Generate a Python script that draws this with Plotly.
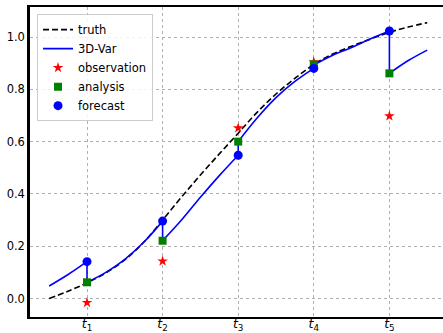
import plotly.graph_objects as go

# ---- data ----
truth_x = [0.5, 0.75, 1.0, 1.25, 1.5, 1.75, 2.0, 2.25, 2.5, 2.75, 3.0,
           3.25, 3.5, 3.75, 4.0, 4.25, 4.5, 4.75, 5.0, 5.25, 5.5]
truth_y = [0.000, 0.028, 0.060, 0.098, 0.148, 0.215, 0.300, 0.388, 0.472, 0.553, 0.632,
           0.712, 0.782, 0.842, 0.895, 0.935, 0.965, 0.992, 1.018, 1.038, 1.055]

# 3D-Var forecast segments (model runs between analysis times)
seg_x = [[0.5, 0.75, 1.0],
         [1.0, 1.25, 1.5, 1.75, 2.0],
         [2.0, 2.25, 2.5, 2.75, 3.0],
         [3.0, 3.25, 3.5, 3.75, 4.0],
         [4.0, 4.25, 4.5, 4.75, 5.0],
         [5.0, 5.25, 5.5]]
seg_y = [[0.048, 0.092, 0.141],
         [0.062, 0.100, 0.150, 0.215, 0.296],
         [0.221, 0.300, 0.387, 0.470, 0.548],
         [0.600, 0.690, 0.768, 0.830, 0.880],
         [0.893, 0.930, 0.960, 0.993, 1.023],
         [0.861, 0.910, 0.950]]

obs_t = [1, 2, 3, 4, 5]
obs_y = [-0.016, 0.143, 0.652, 0.905, 0.698]
ana_y = [0.062, 0.221, 0.600, 0.895, 0.861]
fc_y = [0.141, 0.296, 0.548, 0.880, 1.023]

tick_labels = ["<i>t</i><sub>1</sub>", "<i>t</i><sub>2</sub>", "<i>t</i><sub>3</sub>",
               "<i>t</i><sub>4</sub>", "<i>t</i><sub>5</sub>"]
y_ticks = [0.0, 0.2, 0.4, 0.6, 0.8, 1.0]

FONT = "DejaVu Sans"

# build the 3D-Var line: forecast segments plus the analysis jumps, split by gaps
var_x, var_y = [], []
for sx, sy in zip(seg_x, seg_y):
    var_x += sx + [None]
    var_y += sy + [None]
for t, f, a in zip(obs_t, fc_y, ana_y):
    var_x += [t, t, None]
    var_y += [f, a, None]

fig = go.Figure()
fig.add_trace(go.Scatter(x=truth_x, y=truth_y, mode="lines", name="truth",
                         line=dict(color="black", width=1.6, dash="6px,3px", shape="spline")))
fig.add_trace(go.Scatter(x=var_x, y=var_y, mode="lines", name="3D-Var", connectgaps=False,
                         line=dict(color="blue", width=1.6, shape="spline")))
fig.add_trace(go.Scatter(x=obs_t, y=obs_y, mode="markers", name="observation",
                         marker=dict(symbol="star", color="red", size=8, line=dict(width=0))))
fig.add_trace(go.Scatter(x=obs_t, y=ana_y, mode="markers", name="analysis",
                         marker=dict(symbol="square", color="green", size=8, line=dict(width=0))))
fig.add_trace(go.Scatter(x=obs_t, y=fc_y, mode="markers", name="forecast",
                         marker=dict(symbol="circle", color="blue", size=9, line=dict(width=0))))

fig.update_layout(
    width=443, height=333,
    margin=dict(l=30, r=0, t=7, b=16),
    plot_bgcolor="white", paper_bgcolor="white",
    font=dict(family=FONT, size=11.5, color="black"),
    showlegend=True,
    legend=dict(x=0.017, y=0.977, xanchor="left", yanchor="top",
                bgcolor="rgba(255,255,255,0.85)", bordercolor="#cccccc", borderwidth=1,
                font=dict(family=FONT, size=11.5), tracegroupgap=0,
                itemwidth=30),
    xaxis=dict(range=[0.246, 5.709], tickvals=obs_t, ticktext=tick_labels,
               showgrid=True, gridcolor="#b0b0b0", griddash="dot", gridwidth=1,
               showline=True, linecolor="black", linewidth=2, mirror=True,
               ticks="", zeroline=False, automargin=False, ticklabelstandoff=-6,
               tickfont=dict(family=FONT, size=12.5)),
    yaxis=dict(range=[-0.0707, 1.1148], tickvals=y_ticks, tickformat=".1f",
               showgrid=True, gridcolor="#b0b0b0", griddash="dot", gridwidth=1,
               showline=True, linecolor="black", linewidth=2.5, mirror=False,
               ticks="", zeroline=False, automargin=False),
)

fig.write_html("out.html")
